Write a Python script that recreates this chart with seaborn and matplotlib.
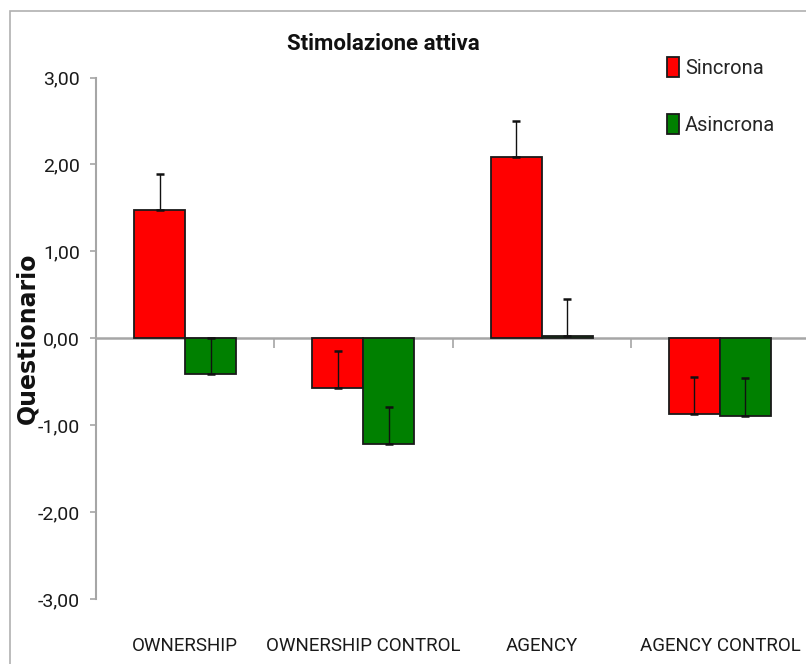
import numpy as np
import pandas as pd
import matplotlib
matplotlib.use("Agg")
import matplotlib.pyplot as plt
from matplotlib.patches import Rectangle
from matplotlib.ticker import FixedLocator, FuncFormatter
import seaborn as sns

# data
condizioni = ["OWNERSHIP", "OWNERSHIP CONTROL", "AGENCY", "AGENCY CONTROL"]
gruppi = ["Sincrona", "Asincrona"]
sincrona = [1.47, -0.57, 2.08, -0.87]
asincrona = [-0.41, -1.22, 0.03, -0.89]
err_sincrona = [0.42, 0.42, 0.42, 0.42]
err_asincrona = [0.41, 0.43, 0.42, 0.43]
colori = {"Sincrona": "#FF0000", "Asincrona": "#008000"}

sns.set_theme(style="white")
plt.rcParams["font.family"] = ["Roboto", "DejaVu Sans"]

df = pd.DataFrame({
    "condizione": condizioni * 2,
    "stimolo": [gruppi[0]] * 4 + [gruppi[1]] * 4,
    "valore": sincrona + asincrona,
})

fig = plt.figure(figsize=(8.06, 6.64), dpi=100)
ax = fig.add_axes([96 / 806, 65 / 664, 713 / 806, 521.5 / 664])

sns.barplot(data=df, x="condizione", y="valore", hue="stimolo",
            order=condizioni, hue_order=gruppi, palette=colori, saturation=1,
            width=0.572, errorbar=None, edgecolor="#1a1a1a", linewidth=1.3,
            legend=False, ax=ax, zorder=2)

# one-sided (upward) error bars, positioned on the seaborn bars
for cont, vals, errs in zip(ax.containers, [sincrona, asincrona], [err_sincrona, err_asincrona]):
    xs = [p.get_x() + p.get_width() / 2 for p in cont.patches]
    ax.errorbar(xs, vals, yerr=[np.zeros(len(errs)), errs], fmt="none",
                ecolor="#111111", elinewidth=1.0, capsize=2.6, capthick=1.8, zorder=3)

ax.set_xlim(-0.5, 3.5)
ax.set_ylim(-3, 3)

grey = "#a6a6a6"
for s in ["top", "right"]:
    ax.spines[s].set_visible(False)
ax.spines["left"].set_color(grey)
ax.spines["left"].set_linewidth(1.5)
ax.spines["bottom"].set_position(("data", 0))
ax.spines["bottom"].set_color(grey)
ax.spines["bottom"].set_linewidth(1.8)
ax.spines["bottom"].set_zorder(1)

ax.set_yticks(np.arange(-3, 4, 1))
ax.yaxis.set_major_formatter(FuncFormatter(lambda v, p: f"{v:.2f}".replace(".", ",")))
ax.tick_params(axis="y", direction="out", length=4.5, width=1.2, color=grey,
               pad=7, labelsize=14, labelcolor="#1a1a1a", left=True)

ax.set_xticks(range(len(condizioni)))
ax.set_xticklabels(condizioni, fontsize=13.5, color="#1a1a1a")
ax.xaxis.set_minor_locator(FixedLocator([0.5, 1.5, 2.5]))
ax.tick_params(axis="x", which="major", length=0, pad=215, bottom=True)
ax.tick_params(axis="x", which="minor", direction="out", length=7, width=1.2,
               color=grey, bottom=True)
ax.set_xlabel("")

ax.set_ylabel("Questionario", family="DejaVu Sans", fontweight="bold",
              fontsize=17, color="#111111")
ax.yaxis.set_label_coords(-0.079, 0.5)

fig.text(383.7 / 806, 1 - 50 / 664, "Stimolazione attiva", ha="center", va="baseline",
         fontsize=16, fontweight="bold", color="#111111")

handles = [Rectangle((0, 0), 1, 1, facecolor=colori[g], edgecolor="#1a1a1a", linewidth=1.3)
           for g in gruppi]
leg = ax.legend(handles, gruppi, loc="upper left", bbox_to_anchor=(667 / 806, 1 - 57 / 664),
                bbox_transform=fig.transFigure, frameon=False, borderpad=0, borderaxespad=0,
                handlelength=0.6, handleheight=1.15, handletextpad=0.3, labelspacing=1.82,
                prop={"family": ["Roboto", "DejaVu Sans"], "size": 14.5})

# light chart-area border (top and left edges visible in the reference)
fig.add_artist(Rectangle((10 / 806, -0.2), 1.5, 1.2 - 11 / 664, transform=fig.transFigure,
                         facecolor="none", edgecolor="#b0b0b0", linewidth=1.2))

fig.savefig("out.png", dpi=100)
